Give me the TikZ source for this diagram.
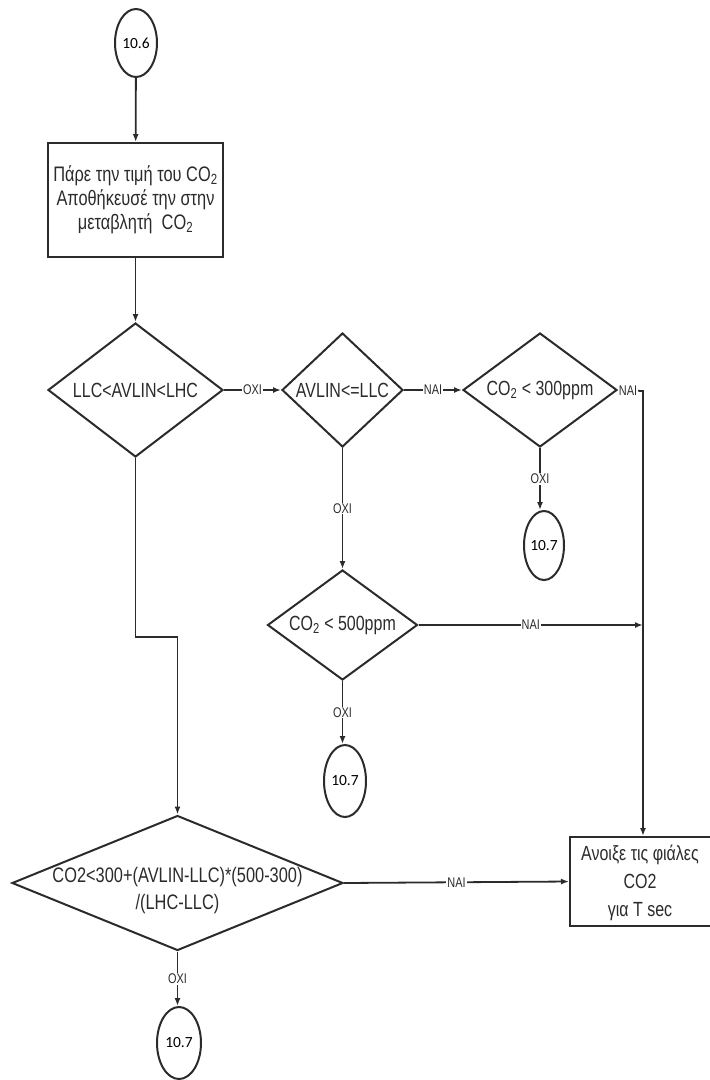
\documentclass[tikz,border=0pt]{standalone}
\usepackage{fontspec}
\setmainfont[FakeStretch=0.78]{Liberation Sans}
\newfontfamily\circfont{Carlito}
\usetikzlibrary{shapes.geometric,arrows.meta}
\definecolor{ink}{HTML}{2B2B2B}
\tikzset{
  shp/.style={draw=ink, line width=2pt},
  dia/.style={shp, diamond, inner sep=0pt},
  proc/.style={shp, rectangle, inner sep=0pt, align=center},
  conn/.style={shp, ellipse, inner sep=0pt, font=\circfont\fontsize{15.5}{17}\selectfont},
  txt/.style={align=center, inner sep=0pt, font=\fontsize{20.5}{24}\selectfont, text=ink},
  lab/.style={fill=white, inner sep=1pt, font=\fontsize{14}{15}\selectfont, text=ink},
  ln/.style={draw=ink, line width=1.8pt},
  arr/.style={ln, -{Latex[length=8pt,width=6pt]}}
}
\begin{document}
\begin{tikzpicture}[x=1pt,y=-1pt]
\useasboundingbox (0,0) rectangle (710,1080);

% nodes
\node[conn, minimum width=42pt, minimum height=68pt] (c0) at (136,43) {10.6};
\node[proc, minimum width=175pt, minimum height=114pt] (b1) at (135.5,200) {};
\node[txt, font=\fontsize{21}{24}\selectfont] at (b1) {Πάρε την τιμή του CO\textsubscript{2}\\Αποθήκευσέ την στην\\μεταβλητή\ \ CO\textsubscript{2}};

\node[dia, minimum width=175pt, minimum height=134pt] (d1) at (135.5,390) {};
\node[txt] at (d1) {LLC<AVLIN<LHC};

\node[dia, minimum width=121pt, minimum height=114pt] (d2) at (342.5,390) {};
\node[txt] at (d2) {AVLIN<=LLC};

\node[dia, minimum width=154pt, minimum height=114pt] (d3) at (540,390) {};
\node[txt] at (d3) {CO\textsubscript{2} < 300ppm};

\node[conn, minimum width=40pt, minimum height=69pt] (c1) at (544,545.5) {10.7};

\node[dia, minimum width=150pt, minimum height=110pt] (d4) at (342.5,625) {};
\node[txt] at (d4) {CO\textsubscript{2} < 500ppm};

\node[conn, minimum width=42pt, minimum height=72pt] (c2) at (345,781) {10.7};

\node[dia, minimum width=331pt, minimum height=135pt] (d5) at (177.5,883) {};
\node[txt, font=\fontsize{21}{27}\selectfont] at (177.5,891) {CO2<300+(AVLIN-LLC)*(500-300)\\/(LHC-LLC)};

\node[proc, minimum width=141pt, minimum height=89pt] (b2) at (640.5,881.5) {};
\node[txt, font=\fontsize{20.5}{28}\selectfont] at (640,883) {Ανοιξε τις φιάλες\\CO2\\για T sec};

\node[conn, minimum width=44pt, minimum height=72pt] (c3) at (179,1043) {10.7};

\coordinate (k1) at (643,391);
\coordinate (k2) at (135.5,637);
\coordinate (k3) at (177.5,637);

% connectors
\draw[arr] (c0) -- (b1);
\draw[arr] (b1) -- (d1);
\draw[arr] (d1.east) -- node[lab]{ΟΧΙ} (d2.west);
\draw[arr] (d2.east) -- node[lab]{ΝΑΙ} (d3.west);
\draw[arr] (d3.east) -- node[lab, pos=0.4]{ΝΑΙ} (k1) -- (b2.north -| k1);
\draw[arr] (d3.south) -- node[lab]{ΟΧΙ} (d3.south |- c1.north);
\draw[arr] (d2.south) -- node[lab]{ΟΧΙ} (d4.north);
\draw[arr] (d4.east) -- node[lab]{ΝΑΙ} (d4.east -| k1);
\draw[arr] (d4.south) -- node[lab]{ΟΧΙ} (d4.south |- c2.north);
\draw[arr] (d1.south) -- (k2) -- (k3) -- (d5.north);
\draw[arr] (d5.east) -- node[lab]{ΝΑΙ} (b2.west);
\draw[arr] (d5.south) -- node[lab]{ΟΧΙ} (d5.south |- c3.north);
\end{tikzpicture}
\end{document}
